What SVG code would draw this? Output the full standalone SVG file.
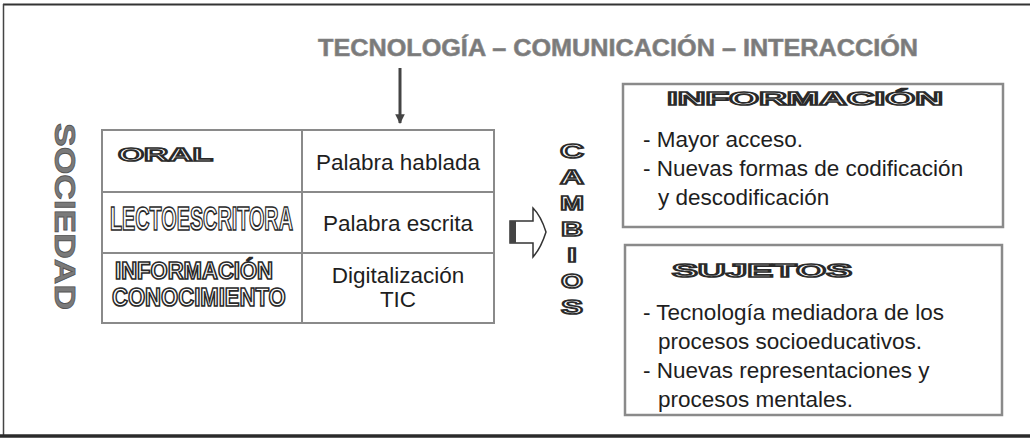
<svg xmlns="http://www.w3.org/2000/svg" width="1030" height="441" viewBox="0 0 1030 441">
  <style>
    .body { font-family: "Liberation Sans", Arial, sans-serif; font-size: 22.5px; fill: #1e1e1e; }
    .outline { font-family: "Liberation Sans", Arial, sans-serif; font-weight: bold; fill: #ffffff; stroke: #2a2a2a; stroke-width: 1.7; }
    .box { fill: #ffffff; stroke: #8a8a8a; stroke-width: 2.5; }
    .grid { stroke: #8a8a8a; stroke-width: 2; fill: none; }
    .title { font-family: "Liberation Sans", Arial, sans-serif; font-weight: bold; font-size: 24px; fill: #7a7a7a; stroke: #8a8a8a; stroke-width: 0.6; }
  </style>
  <defs>
    <marker id="ah" viewBox="0 0 10 10" refX="9" refY="5" markerWidth="3.2" markerHeight="3.2" orient="auto">
      <path d="M0,0 L10,5 L0,10 Z" fill="#444"/>
    </marker>
  </defs>
  <rect width="1030" height="441" fill="#ffffff"/>

  <!-- frame -->
  <g id="frame">
    <line x1="3" y1="4.5" x2="1030" y2="4.5" stroke="#333" stroke-width="2"/>
    <line x1="3.5" y1="4" x2="3.5" y2="436" stroke="#444" stroke-width="1.5"/>
    <line x1="0" y1="436" x2="1030" y2="436" stroke="#2b2b2b" stroke-width="3.5"/>
  </g>

  <!-- title -->
  <g id="title">
    <text class="title" x="318" y="56" textLength="600" lengthAdjust="spacingAndGlyphs">TECNOLOGÍA – COMUNICACIÓN – INTERACCIÓN</text>
  </g>

  <!-- SOCIEDAD vertical label -->
  <g id="sociedad">
    <text transform="translate(55,123) rotate(90)" font-family="Liberation Sans, Arial, sans-serif" font-weight="bold" font-size="30" fill="#7a7a7a" stroke="#555" stroke-width="0.8" textLength="187" lengthAdjust="spacingAndGlyphs">SOCIEDAD</text>
  </g>

  <!-- table -->
  <g id="tabla">
    <rect class="grid" x="102" y="130" width="392" height="193"/>
    <line class="grid" x1="302" y1="130" x2="302" y2="323"/>
    <line class="grid" x1="102" y1="192" x2="494" y2="192"/>
    <line class="grid" x1="102" y1="253" x2="494" y2="253"/>
  </g>
  <g id="oral">
    <text class="outline" x="118" y="161" font-size="19" textLength="95" lengthAdjust="spacingAndGlyphs">ORAL</text>
    <text class="body" x="398" y="170" text-anchor="middle">Palabra hablada</text>
  </g>
  <g id="lectoescritora">
    <text class="outline" transform="translate(110,230) scale(0.6,1)" x="0" y="0" font-size="33" stroke-width="2.2">LECTOESCRITORA</text>
    <text class="body" x="398" y="231" text-anchor="middle">Palabra escrita</text>
  </g>
  <g id="informacion-conocimiento">
    <text class="outline" x="115" y="279" font-size="24" stroke-width="1.8" textLength="158" lengthAdjust="spacingAndGlyphs">INFORMACIÓN</text>
    <text class="outline" transform="translate(112,306) scale(0.85,1)" x="0" y="0" font-size="26" stroke-width="1.9">CONOCIMIENTO</text>
    <text class="body" x="398" y="283" text-anchor="middle">Digitalización</text>
    <text class="body" x="398" y="307" text-anchor="middle">TIC</text>
  </g>

  <!-- connectors -->
  <g id="connectors">
    <line x1="400" y1="68" x2="400" y2="123" stroke="#444" stroke-width="3" marker-end="url(#ah)"/>
    <path d="M510,221 H533 V208 Q541,216 546,232 Q541,248 533,257 V243 H510 Z" fill="#ffffff" stroke="#333" stroke-width="1.5"/>
    <rect x="510" y="221" width="6" height="22" fill="#444"/>
  </g>

  <!-- CAMBIOS vertical -->
  <g id="cambios" font-size="21">
    <text class="outline" x="572" y="158" text-anchor="middle" textLength="24" lengthAdjust="spacingAndGlyphs">C</text>
    <text class="outline" x="572" y="184" text-anchor="middle" textLength="24" lengthAdjust="spacingAndGlyphs">A</text>
    <text class="outline" x="572" y="210" text-anchor="middle" textLength="24" lengthAdjust="spacingAndGlyphs">M</text>
    <text class="outline" x="572" y="236" text-anchor="middle" textLength="22" lengthAdjust="spacingAndGlyphs">B</text>
    <text class="outline" x="572" y="262" text-anchor="middle" textLength="10" lengthAdjust="spacingAndGlyphs">I</text>
    <text class="outline" x="572" y="288" text-anchor="middle" textLength="22" lengthAdjust="spacingAndGlyphs">O</text>
    <text class="outline" x="572" y="314" text-anchor="middle" textLength="22" lengthAdjust="spacingAndGlyphs">S</text>
  </g>

  <!-- INFORMACION box -->
  <g id="informacion">
    <rect class="box" x="623" y="84" width="380" height="143"/>
    <text class="outline" x="667" y="105" font-size="19" textLength="276" lengthAdjust="spacingAndGlyphs">INFORMACIÓN</text>
    <text class="body" x="643" y="147">- Mayor acceso.</text>
    <text class="body" x="643" y="176">- Nuevas formas de codificación</text>
    <text class="body" x="658" y="205">y descodificación</text>
  </g>

  <!-- SUJETOS box -->
  <g id="sujetos">
    <rect class="box" x="625" y="245" width="377" height="170"/>
    <text class="outline" x="672" y="277" font-size="19" textLength="180" lengthAdjust="spacingAndGlyphs">SUJETOS</text>
    <text class="body" x="643" y="320">- Tecnología mediadora de los</text>
    <text class="body" x="658" y="349">procesos socioeducativos.</text>
    <text class="body" x="643" y="378">- Nuevas representaciones y</text>
    <text class="body" x="658" y="407">procesos mentales.</text>
  </g>
</svg>
